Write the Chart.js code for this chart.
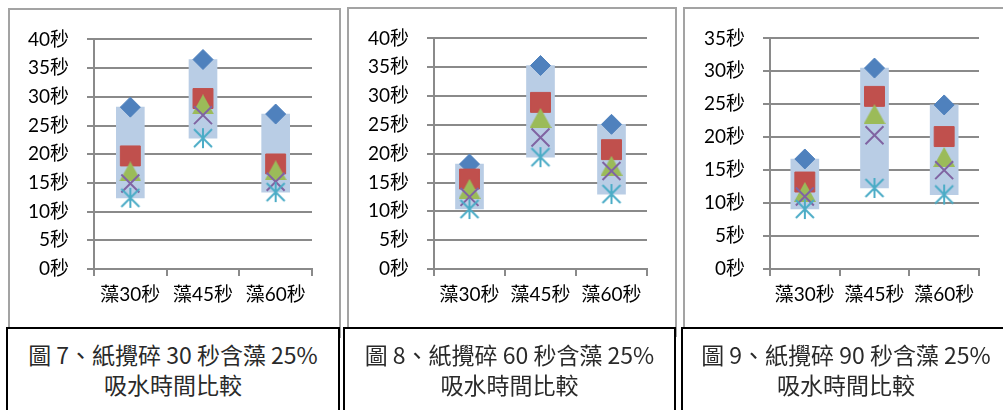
<!DOCTYPE html>
<html>
<head>
<meta charset="utf-8">
<script src="https://cdn.jsdelivr.net/npm/chart.js@4.4.1/dist/chart.umd.min.js"></script>
<style>
  html, body { margin: 0; padding: 0; background: #fff; }
  body { width: 1003px; height: 410px; position: relative; overflow: hidden; }
  .frame { position: absolute; box-sizing: border-box; border: 2px solid #a3a3a3; background: #fff; }
  .frame canvas { position: absolute; left: 0; top: 0; }
  .caption {
    position: absolute; box-sizing: border-box; border: 2px solid #000; background: #fff;
    text-align: center; font-family: 'Noto Sans CJK TC', sans-serif; font-weight: 400;
    font-size: 23px; line-height: 30px; padding-top: 10px; color: #2a2a2a;
  }
</style>
</head>
<body>
<div class="frame" style="left:8px;top:8px;width:333px;height:330px"><canvas id="fig7" width="328" height="318"></canvas></div>
<div class="frame" style="left:347px;top:7px;width:330px;height:330px"><canvas id="fig8" width="326" height="319"></canvas></div>
<div class="frame" style="left:683px;top:7px;width:330px;height:330px"><canvas id="fig9" width="318" height="319"></canvas></div>

<div class="caption" style="left:6px;top:327px;width:334px;height:90px">圖 7、紙攪碎 30 秒含藻 25%<br>吸水時間比較</div>
<div class="caption" style="left:343px;top:327px;width:333px;height:90px">圖 8、紙攪碎 60 秒含藻 25%<br>吸水時間比較</div>
<div class="caption" style="left:681px;top:327px;width:330px;height:90px">圖 9、紙攪碎 90 秒含藻 25%<br>吸水時間比較</div>

<script>
const categories = ['藻30秒', '藻45秒', '藻60秒'];

// 紙攪碎 30 秒 — five runs per algae soak time (seconds)
const fig7Run1 = [28.2, 36.5, 27.0];
const fig7Run2 = [19.7, 29.7, 18.3];
const fig7Run3 = [17.0, 28.7, 17.2];
const fig7Run4 = [14.9, 26.8, 15.2];
const fig7Run5 = [12.4, 22.8, 13.4];

// 紙攪碎 60 秒
const fig8Run1 = [18.2, 35.3, 25.1];
const fig8Run2 = [15.6, 28.9, 20.7];
const fig8Run3 = [13.9, 26.2, 17.9];
const fig8Run4 = [12.5, 22.8, 17.0];
const fig8Run5 = [10.4, 19.4, 13.0];

// 紙攪碎 90 秒
const fig9Run1 = [16.7, 30.5, 24.9];
const fig9Run2 = [13.2, 26.2, 20.1];
const fig9Run3 = [11.7, 23.5, 17.0];
const fig9Run4 = [11.0, 20.3, 15.0];
const fig9Run5 = [9.1, 12.3, 11.3];

const yTicks7 = { max: 40, step: 5 };
const yTicks8 = { max: 40, step: 5 };
const yTicks9 = { max: 35, step: 5 };

const GRID = '#8a8a8a';
const FONT = "Lato, 'Noto Sans CJK TC', sans-serif";

// Excel-like triangle: centred on its bounding box rather than its centroid.
function triangleMarker(color) {
  const c = document.createElement('canvas');
  c.width = 22; c.height = 20;
  const g = c.getContext('2d');
  g.fillStyle = color;
  g.beginPath();
  g.moveTo(11, 0);
  g.lineTo(22, 20);
  g.lineTo(0, 20);
  g.closePath();
  g.fill();
  return c;
}

// Six-armed asterisk: an X plus a vertical stroke.
function asteriskMarker(color) {
  const c = document.createElement('canvas');
  c.width = 22; c.height = 22;
  const g = c.getContext('2d');
  g.strokeStyle = color;
  g.lineWidth = 2;
  g.beginPath();
  g.moveTo(2, 2); g.lineTo(20, 20);
  g.moveTo(20, 2); g.lineTo(2, 20);
  g.moveTo(11, 1); g.lineTo(11, 21);
  g.stroke();
  return c;
}

const markerStyles = [
  { pointStyle: 'rectRot', radius: 10, color: '#4F81BD', border: 1 },
  { pointStyle: 'rect', radius: 14.1, color: '#C0504D', border: 1 },
  { pointStyle: triangleMarker('#9BBB59'), radius: 11, color: '#9BBB59', border: 0 },
  { pointStyle: 'crossRot', radius: 12.7, color: '#8064A2', border: 2 },
  { pointStyle: asteriskMarker('#4BACC6'), radius: 11, color: '#4BACC6', border: 0 },
];

// Draws one high-low panel: a pale box spanning the runs, with a marker per run.
function drawPanel(canvasId, runs, yTicks, area) {
  const canvas = document.getElementById(canvasId);
  const lows = categories.map((_, i) => Math.min(...runs.map((r) => r[i])));
  const highs = categories.map((_, i) => Math.max(...runs.map((r) => r[i])));

  const datasets = runs.map((run, k) => {
    const m = markerStyles[k];
    return {
      type: 'line',
      data: run,
      showLine: false,
      order: runs.length - k,
      pointStyle: m.pointStyle,
      pointRadius: m.radius,
      pointBackgroundColor: m.color,
      pointBorderColor: m.color,
      pointBorderWidth: m.border,
    };
  });
  datasets.push({
    type: 'bar',
    data: lows.map((lo, i) => [lo, highs[i]]),
    backgroundColor: '#B9CDE5',
    barThickness: 28,
    order: 10,
  });

  return new Chart(canvas, {
    type: 'bar',
    data: { labels: categories, datasets },
    options: {
      responsive: false,
      animation: false,
      events: [],
      layout: {
        padding: { left: 0, top: area.top, right: canvas.width - area.right, bottom: 0 },
      },
      plugins: { legend: { display: false }, tooltip: { enabled: false } },
      scales: {
        x: {
          offset: true,
          afterFit: (s) => { s.height = canvas.height - area.bottom; },
          grid: { offset: true, drawOnChartArea: false, color: GRID, lineWidth: 2, tickLength: 7 },
          border: { color: GRID, width: 2 },
          ticks: { color: '#000', padding: 7, font: { family: FONT, size: 19 } },
        },
        y: {
          min: 0,
          max: yTicks.max,
          afterFit: (s) => { s.width = area.left; },
          grid: { color: GRID, lineWidth: 2, tickLength: 7 },
          border: { color: GRID, width: 2 },
          ticks: {
            stepSize: yTicks.step,
            color: '#000',
            padding: 18,
            font: { family: FONT, size: 19 },
            callback: (v) => v + '秒',
          },
        },
      },
    },
  });
}

drawPanel('fig7', [fig7Run1, fig7Run2, fig7Run3, fig7Run4, fig7Run5], yTicks7,
  { left: 84, right: 302, top: 28, bottom: 259 });
drawPanel('fig8', [fig8Run1, fig8Run2, fig8Run3, fig8Run4, fig8Run5], yTicks8,
  { left: 85, right: 298, top: 28, bottom: 260 });
drawPanel('fig9', [fig9Run1, fig9Run2, fig9Run3, fig9Run4, fig9Run5], yTicks9,
  { left: 85, right: 294, top: 28, bottom: 260 });
</script>
</body>
</html>
